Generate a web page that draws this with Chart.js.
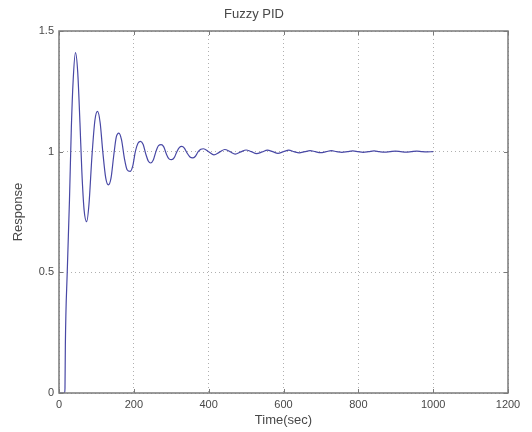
<!DOCTYPE html>
<html>
<head>
<meta charset="utf-8">
<script src="https://cdn.jsdelivr.net/npm/chart.js"></script>
<style>
  html, body { margin: 0; padding: 0; background: #fff; }
  #chart { display: block; }
</style>
</head>
<body>
<canvas id="chart" width="532" height="432"></canvas>
<script>
// step response
const timeSec = [0, 15, 16, 17, 22, 28, 33, 38, 44, 50, 56, 61, 67, 74, 80, 88, 96, 103, 110, 117,
    125, 132, 139, 146, 153, 160, 167, 175, 182, 190, 197, 204, 211, 218, 225, 232, 239, 245, 252, 259,
    266, 273, 280, 287, 294, 301, 308, 315, 322, 328, 335, 342, 350, 357, 364, 372, 379, 386, 400, 414,
    429, 443, 457, 471, 486, 500, 514, 528, 543, 557, 571, 585, 600, 614, 628, 642, 657, 671, 685, 699,
    714, 728, 742, 756, 771, 785, 799, 813, 828, 842, 856, 870, 885, 899, 913, 927, 942, 956, 970, 984, 1000];
const response = [0, 0, 0.02, 0.2, 0.5, 0.8, 1.1, 1.3, 1.41, 1.33, 1.12, 0.92, 0.76, 0.71, 0.78, 0.98, 1.13, 1.167, 1.12, 1.0,
    0.89, 0.862, 0.89, 0.98, 1.06, 1.077, 1.05, 0.97, 0.925, 0.918, 0.94, 1.0, 1.035, 1.043, 1.03, 0.99, 0.96, 0.953, 0.965, 1.0,
    1.025, 1.029, 1.02, 0.99, 0.97, 0.967, 0.975, 1.0, 1.018, 1.022, 1.015, 0.995, 0.978, 0.974, 0.98, 1.0, 1.01, 1.012, 1.0, 0.987,
    0.998, 1.009, 1.0, 0.99, 0.999, 1.007, 1.0, 0.992, 0.999, 1.006, 1.0, 0.993, 1.0, 1.006, 1.0, 0.995, 1.0, 1.004, 1.0, 0.996,
    1.0, 1.004, 1.0, 0.997, 1.0, 1.003, 1.0, 0.997, 1.0, 1.003, 1.0, 0.998, 1.0, 1.002, 1.0, 0.998, 1.0, 1.002, 1.0, 0.999, 1.0];
const xTicks = [0, 200, 400, 600, 800, 1000, 1200];
const yTicks = [0, 0.5, 1, 1.5];

const textColor = '#484848';
const frameColor = '#7a7a7a';

// matlab style box with inward tick marks
const boxPlugin = {
    id: 'boxFrame',
    afterDatasetsDraw(chart) {
        const ctx = chart.ctx;
        const a = chart.chartArea;
        const xs = chart.scales.x;
        const ys = chart.scales.y;
        ctx.save();
        ctx.strokeStyle = frameColor;
        ctx.lineWidth = 1.5;
        ctx.strokeRect(a.left, a.top, a.right - a.left, a.bottom - a.top);
        ctx.lineWidth = 1;
        ctx.beginPath();
        xTicks.forEach(v => {
            const px = Math.round(xs.getPixelForValue(v)) + 0.5;
            ctx.moveTo(px, a.bottom); ctx.lineTo(px, a.bottom - 4);
            ctx.moveTo(px, a.top); ctx.lineTo(px, a.top + 4);
        });
        yTicks.forEach(v => {
            const py = Math.round(ys.getPixelForValue(v)) + 0.5;
            ctx.moveTo(a.left, py); ctx.lineTo(a.left + 4, py);
            ctx.moveTo(a.right, py); ctx.lineTo(a.right - 4, py);
        });
        ctx.stroke();
        ctx.restore();
    }
};

new Chart(document.getElementById('chart'), {
    type: 'line',
    data: {
        datasets: [{
            data: timeSec.map((t, i) => ({x: t, y: response[i]})),
            borderColor: 'rgb(72, 72, 165)',
            borderWidth: 1.2,
            pointRadius: 0,
            fill: false,
            cubicInterpolationMode: 'monotone'
        }]
    },
    options: {
        responsive: false,
        animation: false,
        layout: { padding: { left: 0, right: 24, top: 0, bottom: 0 } },
        plugins: {
            legend: { display: false },
            tooltip: { enabled: false },
            title: {
                display: true,
                text: 'Fuzzy PID',
                color: textColor,
                font: { family: 'Liberation Sans', size: 13, weight: 'normal' },
                padding: { top: 7, bottom: 8.4 }
            }
        },
        scales: {
            x: {
                type: 'linear',
                min: 0,
                max: 1200,
                afterBuildTicks: s => { s.ticks = xTicks.map(v => ({value: v})); },
                afterFit: s => { s.height = 39; },
                grid: {
                    color: '#b0b0b0',
                    lineWidth: 1,
                    drawTicks: false
                },
                border: { display: false, dash: [1, 3] },
                ticks: {
                    color: textColor,
                    padding: 5,
                    maxRotation: 0,
                    font: { family: 'Liberation Sans', size: 11 },
                    callback: v => String(v)
                },
                title: {
                    display: true,
                    text: 'Time(sec)',
                    color: textColor,
                    font: { family: 'Liberation Sans', size: 13 },
                    padding: { top: 0, bottom: 4 }
                }
            },
            y: {
                min: 0,
                max: 1.5,
                afterBuildTicks: s => { s.ticks = yTicks.map(v => ({value: v})); },
                afterFit: s => { s.width = 59; },
                grid: {
                    color: '#b0b0b0',
                    lineWidth: 1,
                    drawTicks: false
                },
                border: { display: false, dash: [1, 3] },
                ticks: {
                    color: textColor,
                    padding: 5,
                    font: { family: 'Liberation Sans', size: 11 },
                    callback: v => String(v)
                },
                title: {
                    display: true,
                    text: 'Response',
                    color: textColor,
                    font: { family: 'Liberation Sans', size: 13 },
                    padding: { top: 11, bottom: 0 }
                }
            }
        }
    },
    plugins: [boxPlugin]
});
</script>
</body>
</html>
